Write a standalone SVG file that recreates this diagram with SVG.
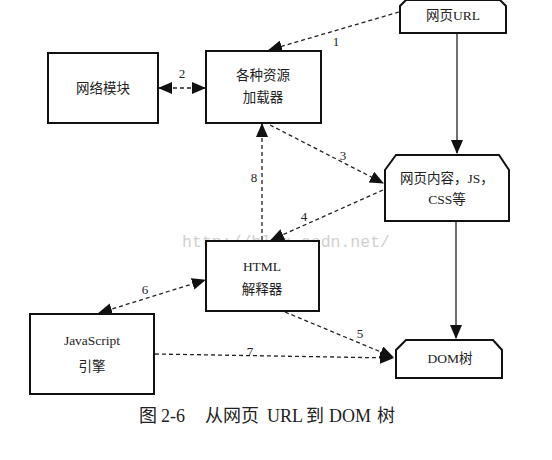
<svg xmlns="http://www.w3.org/2000/svg" width="552" height="460" viewBox="0 0 552 460">
<style>
.box{fill:#fff;stroke:#111;stroke-width:2}
.t{font-family:"Liberation Serif","Noto Sans CJK SC",serif;font-size:13.5px;fill:#222;text-anchor:middle}
.n{font-family:"Liberation Serif",serif;font-size:13px;fill:#222;text-anchor:middle}
.d{fill:none;stroke:#222;stroke-width:1.3;stroke-dasharray:4 3}
.s{fill:none;stroke:#222;stroke-width:1.3}
</style>
<defs>
<marker id="ah" markerUnits="userSpaceOnUse" markerWidth="14" markerHeight="12" refX="13" refY="6" orient="auto-start-reverse" viewBox="0 0 14 12">
<path d="M0,0 L14,6 L0,12 Z" fill="#111"/>
</marker>
</defs>
<rect width="552" height="460" fill="#fff"/>
<text x="286" y="247" font-family="Liberation Mono,monospace" font-size="16.5" fill="#d0d0d0" text-anchor="middle">http://blog.csdn.net/</text>
<g id="connectors">
<line class="d" x1="399" y1="12" x2="269" y2="50" marker-end="url(#ah)"/>
<line class="d" x1="159" y1="88" x2="205" y2="88" marker-start="url(#ah)" marker-end="url(#ah)"/>
<line class="d" x1="270" y1="125" x2="383" y2="183" marker-end="url(#ah)"/>
<line class="d" x1="383" y1="190" x2="271" y2="240" marker-end="url(#ah)"/>
<line class="d" x1="262" y1="240" x2="262" y2="124" marker-end="url(#ah)"/>
<line class="d" x1="99" y1="313" x2="205" y2="280" marker-start="url(#ah)" marker-end="url(#ah)"/>
<line class="d" x1="285" y1="312" x2="393" y2="357" marker-end="url(#ah)"/>
<line class="d" x1="155" y1="354" x2="393" y2="358" marker-end="url(#ah)"/>
<line class="s" x1="457" y1="33" x2="457" y2="153" marker-end="url(#ah)"/>
<line class="s" x1="456" y1="221" x2="456" y2="338" marker-end="url(#ah)"/>
<text class="n" x="336" y="46">1</text>
<text class="n" x="182" y="78">2</text>
<text class="n" x="343" y="160">3</text>
<text class="n" x="304" y="221">4</text>
<text class="n" x="360" y="338">5</text>
<text class="n" x="145" y="294">6</text>
<text class="n" x="250" y="356">7</text>
<text class="n" x="254" y="182">8</text>
</g>
<g id="network">
<rect class="box" x="48" y="53" width="110" height="70"/>
<text class="t" x="103" y="93">网络模块</text>
</g>
<g id="loader">
<rect class="box" x="206" y="51" width="115" height="72"/>
<text class="t" x="263" y="80">各种资源</text>
<text class="t" x="263" y="102">加载器</text>
</g>
<g id="url">
<path class="box" d="M400,33 L400,6 L406,0 L500,0 L506,6 L506,33 Z"/>
<text class="t" x="453" y="20">网页URL</text>
</g>
<g id="content">
<path class="box" d="M385,221 L385,170 L396,155 L499,155 L509,170 L509,221 Z"/>
<text class="t" x="447" y="183">网页内容，JS，</text>
<text class="t" x="447" y="204">CSS等</text>
</g>
<g id="html">
<rect class="box" x="206" y="241" width="113" height="70"/>
<text class="t" x="262" y="271">HTML</text>
<text class="t" x="262" y="294">解释器</text>
</g>
<g id="js">
<rect class="box" x="30" y="314" width="124" height="80"/>
<text class="t" x="92" y="345">JavaScript</text>
<text class="t" x="92" y="371">引擎</text>
</g>
<g id="dom">
<path class="box" d="M396,378 L396,350 L406,340 L493,340 L502,350 L502,378 Z"/>
<text class="t" x="450" y="363">DOM树</text>
</g>
<text y="422" font-family="Liberation Serif,'Noto Sans CJK SC',serif" font-size="18" fill="#222"><tspan x="139">图</tspan><tspan x="161">2-6</tspan><tspan x="205">从网页</tspan><tspan x="267">URL</tspan><tspan x="306">到</tspan><tspan x="329">DOM</tspan><tspan x="377">树</tspan></text>
</svg>
